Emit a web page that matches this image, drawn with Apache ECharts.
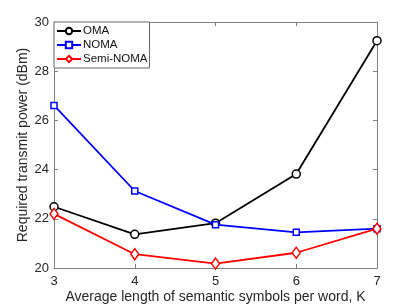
<!DOCTYPE html>
<html>
<head>
<meta charset="utf-8">
<script src="https://cdn.jsdelivr.net/npm/echarts@6/dist/echarts.min.js"></script>
<style>html,body{margin:0;padding:0;background:#fff}#c{width:415px;height:306px}</style>
</head>
<body>
<div id="c"></div>
<script>
var kValues = [3, 4, 5, 6, 7];
var omaValues = [22.49, 21.37, 21.82, 23.82, 29.24];
var nomaValues = [26.61, 23.13, 21.76, 21.45, 21.60];
var semiNomaValues = [22.20, 20.56, 20.18, 20.62, 21.60];
var yTicks = [20, 22, 24, 26, 28, 30];

function pairs(vals){ return kValues.map(function(k,i){ return [k, vals[i]]; }); }

var chart = echarts.init(document.getElementById('c'));
var font = 'Liberation Sans, Arial, Helvetica, sans-serif';
var axisColor = '#808080';
function baseAxis(extra){
  return Object.assign({
    axisLine:{show:true, onZero:false, lineStyle:{color:axisColor, width:1}},
    axisTick:{show:true, inside:true, length:4, lineStyle:{color:axisColor}},
    splitLine:{show:false}
  }, extra);
}
chart.setOption({
  animation:false,
  backgroundColor:'#fff',
  grid:{left:54, right:38, top:22, bottom:38, containLabel:false, outerBoundsMode:'none'},
  legend:{
    left:54, top:22, orient:'vertical', itemGap:0, itemWidth:24, itemHeight:8,
    padding:[2,2,2,2], borderColor:'#666', borderWidth:1, backgroundColor:'#fff',
    textStyle:{fontFamily:font, fontSize:11.5, lineHeight:14, color:'#111', padding:[0,0,0,-3]},
    data:['OMA','NOMA','Semi-NOMA']
  },
  xAxis:[
    baseAxis({type:'value', min:3, max:7, interval:1, position:'bottom',
      name:'Average length of semantic symbols per word, K', nameLocation:'middle', nameGap:22,
      nameMoveOverlap:false,
      nameTextStyle:{fontFamily:font, fontSize:14, color:'#262626'},
      axisLabel:{fontFamily:font, fontSize:13, color:'#262626', margin:7}}),
    baseAxis({type:'value', min:3, max:7, interval:1, position:'top', axisLabel:{show:false}})
  ],
  yAxis:[
    baseAxis({type:'value', min:20, max:30, interval:2, position:'left',
      name:'Required transmit power (dBm)', nameLocation:'middle', nameGap:24,
      nameMoveOverlap:false,
      nameTextStyle:{fontFamily:font, fontSize:14, color:'#262626'},
      axisLabel:{fontFamily:font, fontSize:13, color:'#262626', margin:5,
        formatter:function(v){ return yTicks.indexOf(v)>=0 ? String(v) : ''; }}}),
    baseAxis({type:'value', min:20, max:30, interval:2, position:'right', axisLabel:{show:false}})
  ],
  series:[
    {name:'OMA', type:'line', data:pairs(omaValues), symbol:'circle', symbolSize:8,
      itemStyle:{color:'#fff', borderColor:'#000', borderWidth:1.5},
      lineStyle:{color:'#000', width:1.8}, z:3},
    {name:'NOMA', type:'line', data:pairs(nomaValues), symbol:'rect', symbolSize:6,
      itemStyle:{color:'#fff', borderColor:'#0000ff', borderWidth:1.5},
      lineStyle:{color:'#0000ff', width:1.8}, z:4},
    {name:'Semi-NOMA', type:'line', data:pairs(semiNomaValues), symbol:'diamond', symbolSize:[8,11],
      itemStyle:{color:'#fff', borderColor:'#ff0000', borderWidth:1.5},
      lineStyle:{color:'#ff0000', width:1.8}, z:5}
  ]
});
</script>
</body>
</html>
